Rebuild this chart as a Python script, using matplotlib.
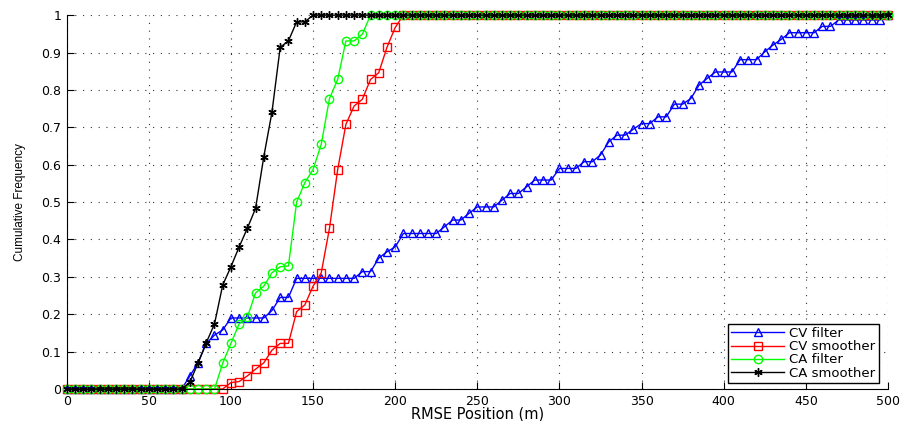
import numpy as np
import matplotlib
matplotlib.use("Agg")
import matplotlib.pyplot as plt

plt.rcParams['font.family'] = ['DejaVu Sans']

# RMSE position grid (m)
rmse = np.arange(0, 505, 5)

# CV filter (blue)
cv_filter = [0.0] * 15 + [
    0.035, 0.07, 0.122, 0.144, 0.158,            # 75-95
    0.19, 0.19, 0.19, 0.19, 0.19,                 # 100-120
    0.21, 0.245, 0.245, 0.296,                    # 125-140
    0.296, 0.296, 0.296, 0.296, 0.296, 0.296, 0.296,  # 145-175
    0.314, 0.314, 0.35, 0.367, 0.38,              # 180-200
    0.416, 0.416, 0.416, 0.416, 0.416,            # 205-225
    0.434, 0.452, 0.452, 0.47, 0.487, 0.487, 0.487,  # 230-260
    0.505, 0.523, 0.523, 0.541, 0.559, 0.559, 0.559,  # 265-295
    0.59, 0.59, 0.59, 0.608, 0.608, 0.626,        # 300-325
    0.661, 0.679, 0.679, 0.695, 0.71, 0.71,       # 330-355
    0.728, 0.728, 0.762, 0.762, 0.777,            # 360-380
    0.813, 0.831, 0.848, 0.848, 0.848,            # 385-405
    0.881, 0.881, 0.881, 0.902, 0.92, 0.935,      # 410-435
    0.953, 0.953, 0.953, 0.953, 0.97, 0.97,       # 440-465
    0.987, 0.987, 0.987, 0.987, 0.987, 0.987,     # 470-495
    1.0,                                          # 500
]

# CV smoother (red)
cv_smoother = [0.0] * 20 + [
    0.017, 0.02, 0.035, 0.053, 0.07,              # 100-120
    0.104, 0.122, 0.122, 0.207, 0.225,            # 125-145
    0.275, 0.311, 0.43, 0.587, 0.708,             # 150-170
    0.757, 0.775, 0.828, 0.846, 0.914, 0.967,     # 175-200
] + [1.0] * 60

# CA filter (green)
ca_filter = [0.0] * 19 + [
    0.069, 0.122, 0.174, 0.192, 0.257,            # 95-115
    0.275, 0.311, 0.327, 0.329, 0.5,              # 120-140
    0.552, 0.587, 0.655, 0.777, 0.828,            # 145-165
    0.931, 0.931, 0.949,                          # 170-180
] + [1.0] * 64

# CA smoother (black)
ca_smoother = [0.0] * 15 + [
    0.018, 0.07, 0.124, 0.174, 0.278,             # 75-95
    0.327, 0.38, 0.43, 0.483, 0.621,              # 100-120
    0.741, 0.914, 0.931, 0.982, 0.982,            # 125-145
] + [1.0] * 71

fig = plt.figure(figsize=(9.07, 4.21), dpi=100)
ax = fig.add_axes([0.0735, 0.076, 0.9055, 0.888])

series = [
    (cv_filter, '#0000ff', '^', 'CV filter'),
    (cv_smoother, '#ff0000', 's', 'CV smoother'),
    (ca_filter, '#00ff00', 'o', 'CA filter'),
    (ca_smoother, 'black', (6, 2, 0), 'CA smoother'),
]
for vals, col, mk, lab in series:
    ax.plot(rmse, vals, color=col, marker=mk, markersize=6,
            markerfacecolor='none', markeredgecolor=col, markeredgewidth=1.0,
            linewidth=1.0, label=lab, clip_on=False)

ax.set_xlim(0, 500)
ax.set_ylim(0, 1)
ax.set_xticks(np.arange(0, 501, 50))
ax.set_yticks(np.round(np.arange(0, 1.01, 0.1), 1))
ax.set_yticklabels(['0', '0.1', '0.2', '0.3', '0.4', '0.5', '0.6', '0.7', '0.8', '0.9', '1'])
ax.tick_params(direction='in', length=5, labelsize=9, width=0.8, pad=4)
ax.grid(True, linestyle=(0, (1, 6)), color='0.2', linewidth=0.8)
ax.spines['top'].set_visible(False)
ax.spines['right'].set_visible(False)

ax.set_xlabel('RMSE Position (m)', fontsize=10.5, labelpad=-1)
ax.set_ylabel('Cumulative Frequency', fontsize=8.5, labelpad=11,
              family=['Liberation Sans Narrow', 'Liberation Sans', 'DejaVu Sans'])

leg = ax.legend(loc='lower right', bbox_to_anchor=(0.989, 0.016), borderaxespad=0,
                fontsize=9.5, handlelength=4.0, borderpad=0.25, labelspacing=0.02,
                handletextpad=0.4, fancybox=False, framealpha=1)
leg.get_frame().set_edgecolor('black')
leg.get_frame().set_linewidth(1.0)

fig.savefig('out.png', dpi=100)
